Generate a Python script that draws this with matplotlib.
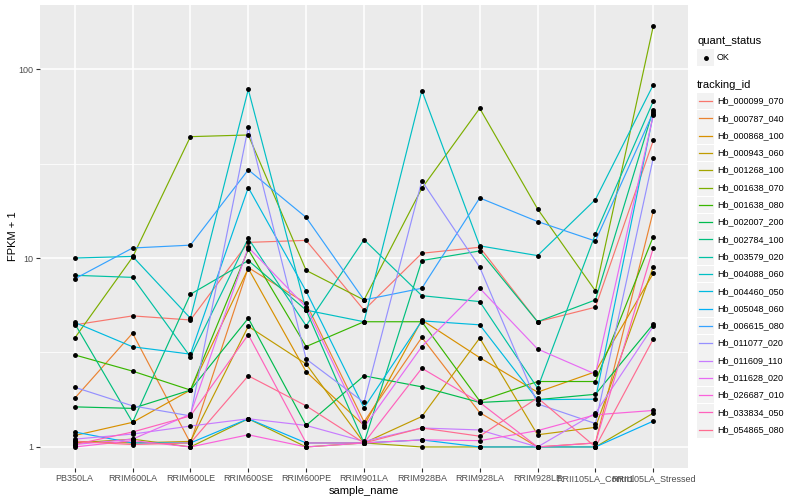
import matplotlib
matplotlib.use("Agg")
import matplotlib.pyplot as plt
import numpy as np

plt.rcParams['font.family'] = ['Liberation Sans', 'DejaVu Sans']

samples = ["PB350LA", "RRIM600LA", "RRIM600LE", "RRIM600SE", "RRIM600PE",
           "RRIM901LA", "RRIM928BA", "RRIM928LA", "RRIM928LE",
           "RRII105LA_Control", "RRII105LA_Stressed"]

tracking_ids = ["Hb_000099_070", "Hb_000787_040", "Hb_000868_100", "Hb_000943_060",
                "Hb_001268_100", "Hb_001638_070", "Hb_001638_080", "Hb_002007_200",
                "Hb_002784_100", "Hb_003579_020", "Hb_004088_060", "Hb_004460_050",
                "Hb_005048_060", "Hb_006615_080", "Hb_011077_020", "Hb_011609_110",
                "Hb_011628_020", "Hb_026687_010", "Hb_033834_050", "Hb_054865_080"]

# ggplot default hue palette for 20 levels
colors = ["#F8766D", "#EA8331", "#D89000", "#C09B00", "#A3A500", "#7CAE00",
          "#39B600", "#00BB4E", "#00BF7D", "#00C1A3", "#00BFC4", "#00BAE0",
          "#00B0F6", "#35A2FF", "#9590FF", "#C77CFF", "#E76BF3", "#FA62DB",
          "#FF62BC", "#FF6C91"]

# FPKM + 1, one row per tracking id, one column per sample
fpkm = [
    [4.43, 4.94, 4.70, 12.1, 12.4, 5.30, 10.6, 11.4, 4.60, 5.49, 41.9],
    [1.81, 4.00, 1.05, 8.90, 5.75, 1.36, 3.80, 1.52, 1.00, 1.05, 17.7],
    [1.15, 1.35, 2.00, 8.80, 2.50, 1.30, 4.70, 2.97, 1.95, 2.50, 8.30],
    [1.07, 1.05, 1.07, 4.35, 2.75, 1.05, 1.45, 3.77, 1.16, 1.27, 9.00],
    [1.05, 1.10, 1.00, 1.41, 1.00, 1.05, 1.00, 1.00, 1.00, 1.00, 1.51],
    [3.77, 10.1, 43.9, 44.8, 8.60, 6.00, 23.4, 62.0, 18.2, 6.70, 169.0],
    [3.07, 2.52, 2.00, 11.1, 3.40, 4.60, 4.60, 1.75, 2.22, 2.22, 13.0],
    [1.63, 1.60, 2.00, 4.80, 1.30, 2.38, 2.08, 1.72, 1.78, 1.90, 4.47],
    [4.50, 1.35, 6.43, 9.70, 5.30, 1.05, 9.70, 10.9, 4.60, 6.00, 61.0],
    [8.10, 7.90, 3.00, 12.7, 4.38, 12.5, 6.32, 5.88, 2.05, 13.4, 67.6],
    [10.0, 10.2, 4.80, 78.0, 5.30, 4.60, 77.0, 11.6, 10.3, 20.4, 82.6],
    [4.56, 3.39, 3.10, 23.6, 6.67, 1.61, 4.65, 4.43, 1.78, 1.79, 57.6],
    [1.20, 1.05, 1.05, 1.41, 1.05, 1.05, 1.09, 1.00, 1.00, 1.00, 1.37],
    [7.76, 11.3, 11.7, 29.3, 16.4, 6.00, 6.92, 20.8, 15.6, 12.3, 59.0],
    [2.07, 1.65, 1.46, 49.3, 2.92, 1.72, 25.6, 8.94, 1.69, 1.33, 33.9],
    [1.10, 1.17, 1.29, 1.41, 1.30, 1.07, 1.26, 1.23, 1.00, 1.51, 4.35],
    [1.03, 1.10, 1.49, 11.4, 5.50, 1.27, 3.40, 6.92, 3.30, 2.43, 57.0],
    [1.00, 1.08, 1.00, 1.16, 1.00, 1.05, 1.09, 1.08, 1.22, 1.48, 1.56],
    [1.03, 1.20, 1.46, 3.93, 1.05, 1.05, 2.61, 1.72, 1.00, 1.05, 11.3],
    [1.07, 1.03, 1.05, 2.38, 1.65, 1.05, 1.26, 1.14, 1.82, 1.00, 3.73],
]

W, H = 800, 500
fig = plt.figure(figsize=(8, 5), dpi=100)
fig.patch.set_facecolor("white")

px0, px1, py0, py1 = 40, 688, 5, 468
ax = fig.add_axes([px0 / W, 1 - py1 / H, (px1 - px0) / W, (py1 - py0) / H])
ax.set_facecolor("#EBEBEB")

x = np.arange(len(samples))
vals = np.array(fpkm)

for i, row in enumerate(vals):
    ax.plot(x, row, color=colors[i], lw=0.85, zorder=3)
ax.plot(np.tile(x, len(vals)), vals.ravel(), linestyle="none", marker="o",
        markersize=2.5, color="black", zorder=4)

ax.set_yscale("log")
lo, hi = np.log10(vals.min()), np.log10(vals.max())
pad = (hi - lo) * 0.05
ax.set_ylim(10 ** (lo - pad), 10 ** (hi + pad))
ax.set_xlim(-0.6, len(samples) - 0.4)

ax.set_yticks([1, 10, 100])
ax.set_yticklabels(["1", "10", "100"])
ax.yaxis.set_minor_locator(matplotlib.ticker.FixedLocator([10 ** 0.5, 10 ** 1.5]))
ax.yaxis.set_minor_formatter(matplotlib.ticker.NullFormatter())
ax.set_xticks(x)
ax.set_xticklabels(samples)

ax.grid(True, which="major", color="white", lw=1.1, zorder=0)
ax.grid(True, which="minor", axis="y", color="white", lw=0.55, zorder=0)
ax.set_axisbelow(True)
for s in ax.spines.values():
    s.set_visible(False)
ax.tick_params(axis="both", which="major", length=3, width=0.8, color="#333333",
               labelcolor="#4D4D4D", labelsize=6.5, pad=1.5)
ax.tick_params(axis="y", which="minor", length=0)

ax.set_xlabel("sample_name", fontsize=8, color="black")
ax.set_ylabel("FPKM + 1", fontsize=8, color="black")
ax.xaxis.set_label_coords((364 - px0) / (px1 - px0), -(491 - py1) / (py1 - py0))
ax.yaxis.set_label_coords(-(px0 - 13) / (px1 - px0), 0.5)
ax.xaxis.label.set_va("center")
ax.yaxis.label.set_va("center")

# legend drawn in pixel space
lax = fig.add_axes([0, 0, 1, 1])
lax.set_xlim(0, W)
lax.set_ylim(H, 0)
lax.axis("off")

lax.text(697, 41, "quant_status", fontsize=8, va="center", ha="left")
lax.add_patch(plt.Rectangle((697, 49), 17, 17, color="#F2F2F2", lw=0))
lax.plot([705.5], [57.5], marker="o", markersize=2.5, color="black")
lax.text(717, 57.5, "OK", fontsize=6.5, va="center", ha="left")

lax.text(697, 85, "tracking_id", fontsize=8, va="center", ha="left")
step = 17.3
for i, (tid, c) in enumerate(zip(tracking_ids, colors)):
    yc = 101 + i * step
    lax.add_patch(plt.Rectangle((697, yc - 8.3), 17, 16.6, color="#F2F2F2", lw=0))
    lax.plot([699, 712], [yc, yc], color=c, lw=0.9)
    lax.text(717, yc, tid, fontsize=6.5, va="center", ha="left")

fig.savefig("out.png", dpi=100)
